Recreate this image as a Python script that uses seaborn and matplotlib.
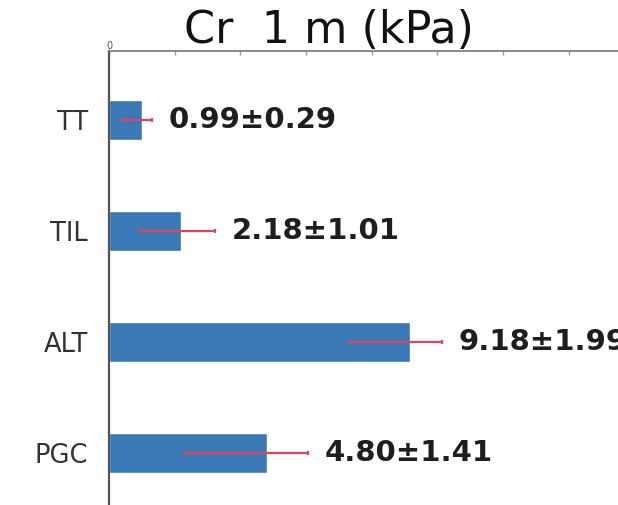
import matplotlib
matplotlib.use("Agg")
import matplotlib.pyplot as plt
import seaborn as sns
import pandas as pd

# ---- data ----
categories = ["TT", "TIL", "ALT", "PGC"]
means = [0.99, 2.18, 9.18, 4.80]
sds = [0.29, 1.01, 1.99, 1.41]
# whisker lengths as drawn in the reference picture
err_low = [0.59, 1.23, 1.83, 2.48]
err_high = [0.32, 1.05, 0.97, 1.27]
top_ticks = [0, 2, 4, 6, 8, 10, 12, 14]
top_tick_labels = ["0", "", "", "", "", "", "", ""]
title = "Cr  1 m (kPa)"

sns.set_theme(style="white")
plt.rcParams["font.family"] = ["DejaVu Sans"]

df = pd.DataFrame({"cat": categories, "mean": means})

fig = plt.figure(figsize=(6.18, 5.05), dpi=100)
ax = fig.add_axes([109 / 618, 0.0, 1 - 109 / 618, 1 - 51 / 505])

bar_color = "#3a78b6"
sns.barplot(data=df, x="mean", y="cat", orient="h", color=bar_color,
            saturation=1, width=0.36, ax=ax, order=categories)

ypos = list(range(len(categories)))
ax.errorbar(means, ypos, xerr=[err_low, err_high], fmt="none",
            ecolor="#d8475e", elinewidth=1.6, capsize=1.5, capthick=1.6, zorder=5)

for m, s, eh, y in zip(means, sds, err_high, ypos):
    ax.annotate(f"{m:.2f}±{s:.2f}", xy=(m + eh, y), xytext=(12, 0),
                textcoords="offset points", ha="left", va="center",
                fontsize=21, fontweight="bold", color="#1e1e1e",
                annotation_clip=False)

ax.set_xlim(0, 15.5)
ax.set_ylim(3.47, -0.62)
ax.set_xlabel("")
ax.set_ylabel("")

ax.xaxis.tick_top()
ax.set_xticks(top_ticks)
ax.set_xticklabels(top_tick_labels)
ax.tick_params(axis="x", top=True, bottom=False, length=3, width=1,
               direction="in", color="#999999", labelsize=7,
               labelcolor="#555555", pad=0)
ax.tick_params(axis="y", left=False, length=0, labelsize=18.5,
               labelcolor="#333333", pad=15)

for side in ["right", "bottom"]:
    ax.spines[side].set_visible(False)
ax.spines["left"].set_color("#555555")
ax.spines["left"].set_linewidth(1.6)
ax.spines["top"].set_color("#808080")
ax.spines["top"].set_linewidth(1.3)

fig.text(329 / 618, 1 - 43 / 505, title, ha="center", va="baseline",
         fontsize=32, color="#111111")

fig.savefig("out.png", dpi=100)
